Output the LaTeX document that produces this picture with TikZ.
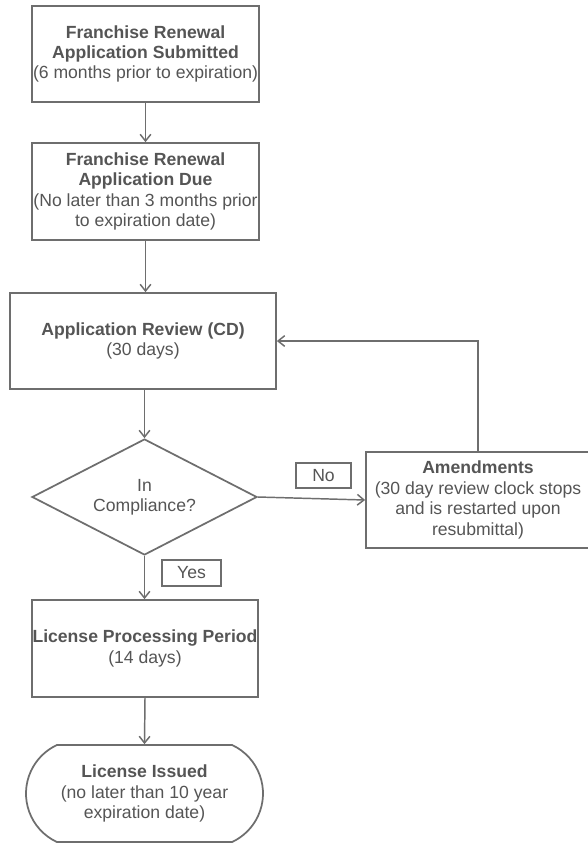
\documentclass[tikz,border=0pt]{standalone}
\usepackage{fontspec}
\setmainfont{Liberation Sans}
\usetikzlibrary{arrows.meta,shapes.geometric,shapes.misc}
\definecolor{linegray}{HTML}{6E6E6E}
\definecolor{textgray}{HTML}{555555}
\newcommand{\pxu}{0.75pt}
\begin{document}
\begin{tikzpicture}[x=0.75pt,y=-0.75pt,
  every node/.style={font=\fontsize{13.2pt}{15.3pt}\selectfont, text=textgray, align=center, inner sep=0pt},
  procbox/.style={draw=linegray, line width=1.3pt, rectangle},
  decbox/.style={draw=linegray, line width=1.3pt, diamond, aspect=1.94},
  termbox/.style={draw=linegray, line width=1.3pt, rounded rectangle, rounded rectangle arc length=130},
  labbox/.style={draw=linegray, line width=1.3pt, rectangle},
  conn/.style={draw=linegray, line width=1.1pt, -{Straight Barb[length=5pt,width=8pt,line width=1.1pt]}}
]
\useasboundingbox (0,0) rectangle (587,843);
\fill[white] (0,0) rectangle (587,843);

\node[procbox, minimum width=227*\pxu, minimum height=96*\pxu] (sub) at (145.5,54)
  {\textbf{Franchise Renewal}\\\textbf{Application Submitted}\\(6 months prior to expiration)};
\node[procbox, minimum width=227*\pxu, minimum height=97*\pxu] (due) at (145.5,191.5)
  {\textbf{Franchise Renewal}\\\textbf{Application Due}\\(No later than 3 months prior\\to expiration date)};
\node[procbox, minimum width=266*\pxu, minimum height=96*\pxu] (rev) at (143,341)
  {\textbf{Application Review (CD)}\\(30 days)};
\node[decbox, minimum width=225*\pxu, minimum height=116*\pxu] (dec) at (144.5,497)
  {In\\Compliance?};
\node[procbox, minimum width=232*\pxu, minimum height=96*\pxu] (amd) at (482,500)
  {};
\node (amdtext) at (478,500)
  {\textbf{Amendments}\\(30 day review clock stops\\and is restarted upon\\resubmittal)};
\coordinate (amdtop) at (478,452);
\node[procbox, minimum width=226*\pxu, minimum height=97*\pxu] (lpp) at (145,648.5)
  {\textbf{License Processing Period}\\(14 days)};
\node[termbox, minimum width=237*\pxu, minimum height=97*\pxu] (iss) at (144.5,793.5)
  {\textbf{License Issued}\\(no later than 10 year\\expiration date)};

\node[labbox, minimum width=55*\pxu, minimum height=25*\pxu] (no) at (323.5,475.5) {No};
\node[labbox, minimum width=59*\pxu, minimum height=26*\pxu] (yes) at (191.5,573) {Yes};

\draw[conn] (sub.south) -- (due.north);
\draw[conn] (due.south) -- (due.south |- rev.north);
\draw[conn] (dec.north |- rev.south) -- (dec.north);
\draw[conn] (dec.south) -- (dec.south |- lpp.north);
\draw[conn] (lpp.south) -- (iss.north);
\draw[conn] (dec.east) -- (amd.west);
\draw[conn] (amdtop) |- (rev.east);
\end{tikzpicture}
\end{document}
